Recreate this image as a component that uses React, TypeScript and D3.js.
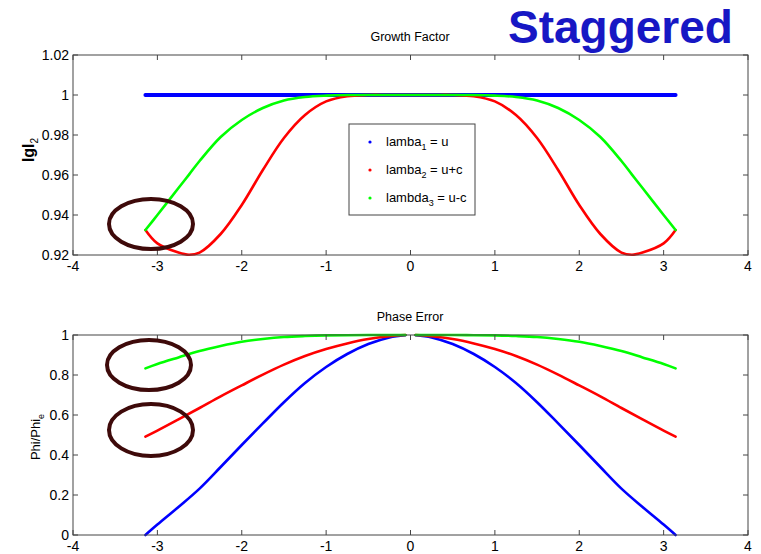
import React from 'react'
import * as d3 from 'd3'

// sample points
const growthX = [-3.1416, -3, -2.75, -2.625, -2.5, -2.25, -2, -1.75, -1.5, -1.25, -1, -0.75, -0.5, -0.25, 0,
  0.25, 0.5, 0.75, 1, 1.25, 1.5, 1.75, 2, 2.25, 2.5, 2.625, 2.75, 3, 3.1416]
const growthBlue = [1, 1, 1, 1, 1, 1, 1, 1, 1, 1, 1, 1, 1, 1, 1,
  1, 1, 1, 1, 1, 1, 1, 1, 1, 1, 1, 1, 1, 1]
const growthRed = [0.9325, 0.9258, 0.9212, 0.9201, 0.9212, 0.9305, 0.9450, 0.9625, 0.9785, 0.9900, 0.9968, 0.9994, 1, 1, 1,
  1, 1, 0.9994, 0.9968, 0.9900, 0.9785, 0.9625, 0.9450, 0.9305, 0.9212, 0.9201, 0.9212, 0.9258, 0.9325]
const growthGreen = [0.9325, 0.9400, 0.9535, 0.9602, 0.9670, 0.9790, 0.9875, 0.9935, 0.9973, 0.9990, 0.9997, 1, 1, 1, 1,
  1, 1, 1, 0.9997, 0.9990, 0.9973, 0.9935, 0.9875, 0.9790, 0.9670, 0.9602, 0.9535, 0.9400, 0.9325]

const phaseX = [-3.1416, -3, -2.75, -2.5, -2.25, -2, -1.75, -1.5, -1.25, -1, -0.75, -0.5, -0.25, -0.06, 0,
  0.06, 0.25, 0.5, 0.75, 1, 1.25, 1.5, 1.75, 2, 2.25, 2.5, 2.75, 3, 3.1416]
const phaseBlue = [0, 0.052, 0.14, 0.232, 0.34, 0.45, 0.558, 0.664, 0.76, 0.84, 0.905, 0.955, 0.988, 0.999, null,
  0.999, 0.988, 0.955, 0.905, 0.84, 0.76, 0.664, 0.558, 0.45, 0.34, 0.232, 0.14, 0.052, 0]
const phaseRed = [0.492, 0.522, 0.578, 0.635, 0.693, 0.748, 0.802, 0.852, 0.895, 0.93, 0.958, 0.98, 0.994, 1, null,
  1, 0.994, 0.98, 0.958, 0.93, 0.895, 0.852, 0.802, 0.748, 0.693, 0.635, 0.578, 0.522, 0.492]
const phaseGreen = [0.833, 0.855, 0.888, 0.92, 0.945, 0.966, 0.98, 0.99, 0.995, 0.998, 0.999, 1, 1, 1, null,
  1, 1, 1, 0.999, 0.998, 0.995, 0.99, 0.98, 0.966, 0.945, 0.92, 0.888, 0.855, 0.833]

const xTicks = [-4, -3, -2, -1, 0, 1, 2, 3, 4]
const growthTicks = [0.92, 0.94, 0.96, 0.98, 1, 1.02]
const phaseTicks = [0, 0.2, 0.4, 0.6, 0.8, 1]

const legendItems = [
  {name: 'lamba', sub: '1', rest: ' = u', color: '#0000ff'},
  {name: 'lamba', sub: '2', rest: ' = u+c', color: '#ff0000'},
  {name: 'lambda', sub: '3', rest: ' = u-c', color: '#00ff00'}
]

const FONT = 'Arial, "Liberation Sans", sans-serif'

function Axes ({top, bottom, yDomain, yTicks, yFmt, title, children}) {
  const x = d3.scaleLinear().domain([-4, 4]).range([73, 748])
  const y = d3.scaleLinear().domain(yDomain).range([bottom, top])
  const tk = 5
  return (
    <g>
      <text x={410} y={top - 14} textAnchor='middle' fontSize={12.5} fontFamily={FONT}>{title}</text>
      {children(x, y)}
      <rect x={73} y={top} width={675} height={bottom - top} fill='none' stroke='#444' strokeWidth={1}/>
      {xTicks.map((t) => (
        <g key={'x' + t}>
          <line x1={x(t)} x2={x(t)} y1={bottom} y2={bottom - tk} stroke='#444'/>
          <line x1={x(t)} x2={x(t)} y1={top} y2={top + tk} stroke='#444'/>
          <text x={x(t)} y={bottom + 16} textAnchor='middle' fontSize={14} fontFamily={FONT}>{t}</text>
        </g>
      ))}
      {yTicks.map((t) => (
        <g key={'y' + t}>
          <line x1={73} x2={73 + tk} y1={y(t)} y2={y(t)} stroke='#444'/>
          <line x1={748} x2={748 - tk} y1={y(t)} y2={y(t)} stroke='#444'/>
          <text x={69} y={y(t) + 5} textAnchor='end' fontSize={14} fontFamily={FONT}>{yFmt(t)}</text>
        </g>
      ))}
    </g>
  )
}

function curve (x, y, xs, ys) {
  return d3.line()
    .defined((d, i) => ys[i] !== null)
    .x((d, i) => x(xs[i]))
    .y((d, i) => y(ys[i]))
    .curve(d3.curveCatmullRom.alpha(0.5))(xs)
}

export default function App () {
  const trim = (t) => String(+t.toFixed(2))
  return (
    <svg width={761} height={554} style={{position: 'absolute', left: 0, top: 0, background: '#fff'}}>
      <rect width={761} height={554} fill='#fff'/>
      <text x={508} y={43} fontSize={46} fontWeight='bold' fill='#1717c4' fontFamily={FONT}>Staggered</text>

      <Axes top={55} bottom={255} yDomain={[0.92, 1.02]} yTicks={growthTicks} yFmt={trim} title='Growth Factor'>
        {(x, y) => (
          <g fill='none' strokeLinejoin='round' strokeLinecap='round'>
            <path d={curve(x, y, growthX, growthBlue)} stroke='#0000ff' strokeWidth={4}/>
            <path d={curve(x, y, growthX, growthRed)} stroke='#ff0000' strokeWidth={2.6}/>
            <path d={curve(x, y, growthX, growthGreen)} stroke='#00ff00' strokeWidth={2.6}/>
          </g>
        )}
      </Axes>
      <text transform='translate(34,150) rotate(-90)' textAnchor='middle' fontSize={16} fontWeight='bold' fontFamily={FONT}>
        IgI<tspan fontSize={10} fontWeight='normal' dy={4}>2</tspan>
      </text>

      <g>
        <rect x={349} y={124} width={126} height={91} fill='#fff' stroke='#444' strokeWidth={1}/>
        {legendItems.map((d, i) => (
          <g key={i}>
            <circle cx={370} cy={142 + i * 28} r={1.6} fill={d.color}/>
            <text x={386} y={146 + i * 28} fontSize={13} fontFamily={FONT}>
              {d.name}<tspan fontSize={9} dy={4}>{d.sub}</tspan><tspan dy={-4}>{d.rest}</tspan>
            </text>
          </g>
        ))}
      </g>

      <Axes top={335} bottom={535} yDomain={[0, 1]} yTicks={phaseTicks} yFmt={trim} title='Phase Error'>
        {(x, y) => (
          <g fill='none' strokeLinejoin='round' strokeLinecap='round'>
            <path d={curve(x, y, phaseX, phaseBlue)} stroke='#0000ff' strokeWidth={2.6}/>
            <path d={curve(x, y, phaseX, phaseRed)} stroke='#ff0000' strokeWidth={2.6}/>
            <path d={curve(x, y, phaseX, phaseGreen)} stroke='#00ff00' strokeWidth={2.6}/>
          </g>
        )}
      </Axes>
      <text transform='translate(40,437) rotate(-90)' textAnchor='middle' fontSize={13} fontFamily={FONT}>
        Phi/Phi<tspan fontSize={9} dy={4}>e</tspan>
      </text>

      <g fill='none' stroke='#3e0a0a' strokeWidth={4}>
        <ellipse cx={151} cy={224} rx={42} ry={25}/>
        <ellipse cx={149} cy={365} rx={42} ry={25}/>
        <ellipse cx={151} cy={430} rx={42} ry={26}/>
      </g>
    </svg>
  )
}
